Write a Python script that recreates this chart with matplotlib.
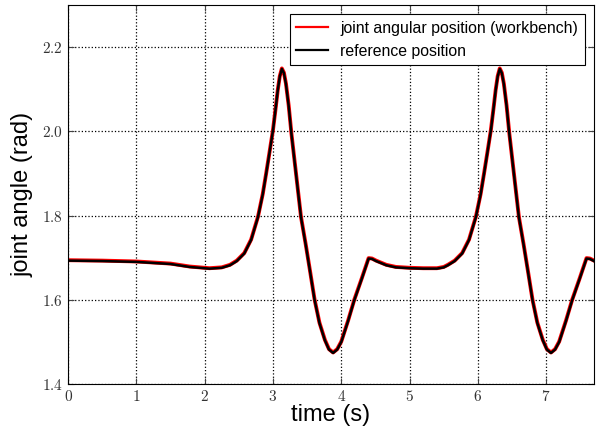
import numpy as np
import matplotlib
matplotlib.use('agg')
import matplotlib.pyplot as plt
from matplotlib.ticker import FuncFormatter

# values
t = [0.0, 0.5, 1.0, 1.5, 1.78, 2.07, 2.25, 2.37, 2.47, 2.58, 2.68, 2.78,
     2.85, 2.90, 2.95, 3.00, 3.04, 3.07, 3.10, 3.13, 3.16, 3.19, 3.23, 3.27,
     3.34, 3.41, 3.48, 3.54, 3.61, 3.68, 3.76, 3.82, 3.88, 3.94, 4.00, 4.10,
     4.19, 4.30, 4.40, 4.45, 4.51, 4.66, 4.80, 5.00, 5.20, 5.40, 5.50, 5.56,
     5.66, 5.77, 5.87, 5.97, 6.04, 6.09, 6.14, 6.19, 6.23, 6.26, 6.29, 6.32,
     6.35, 6.38, 6.42, 6.46, 6.53, 6.60, 6.67, 6.73, 6.80, 6.87, 6.95, 7.01,
     7.07, 7.13, 7.19, 7.29, 7.38, 7.49, 7.59, 7.64, 7.70]
reference = [1.693, 1.692, 1.690, 1.685, 1.678, 1.674, 1.676, 1.682, 1.692,
             1.710, 1.742, 1.796, 1.850, 1.899, 1.950, 2.002, 2.055, 2.097,
             2.130, 2.148, 2.138, 2.112, 2.060, 1.994, 1.895, 1.796, 1.730,
             1.670, 1.599, 1.545, 1.504, 1.482, 1.474, 1.482, 1.500, 1.550,
             1.599, 1.650, 1.698, 1.697, 1.692, 1.682, 1.677, 1.675, 1.674,
             1.674, 1.677, 1.682, 1.692, 1.710, 1.742, 1.796, 1.850, 1.899,
             1.950, 2.002, 2.055, 2.097, 2.130, 2.148, 2.138, 2.112, 2.060,
             1.994, 1.895, 1.796, 1.730, 1.670, 1.599, 1.545, 1.504, 1.482,
             1.474, 1.482, 1.500, 1.550, 1.599, 1.650, 1.698, 1.697, 1.692]
workbench = [1.694, 1.693, 1.691, 1.686, 1.679, 1.675, 1.677, 1.683, 1.693,
             1.711, 1.743, 1.797, 1.851, 1.900, 1.951, 2.003, 2.056, 2.098,
             2.131, 2.149, 2.139, 2.113, 2.061, 1.995, 1.896, 1.797, 1.731,
             1.671, 1.600, 1.546, 1.505, 1.483, 1.475, 1.483, 1.501, 1.551,
             1.600, 1.651, 1.699, 1.698, 1.693, 1.683, 1.678, 1.676, 1.675,
             1.675, 1.678, 1.683, 1.693, 1.711, 1.743, 1.797, 1.851, 1.900,
             1.951, 2.003, 2.056, 2.098, 2.131, 2.149, 2.139, 2.113, 2.061,
             1.995, 1.896, 1.797, 1.731, 1.671, 1.600, 1.546, 1.505, 1.483,
             1.475, 1.483, 1.501, 1.551, 1.600, 1.651, 1.699, 1.698, 1.693]

plt.rcParams['mathtext.fontset'] = 'cm'
plt.rcParams['font.family'] = ['Liberation Sans', 'DejaVu Sans']

fig = plt.figure(figsize=(5.97, 4.36), dpi=100)
ax = fig.add_axes([0.114, 0.119, 0.881, 0.870])

ax.plot(t, workbench, color='red', lw=2.8, label='joint angular position (workbench)')
ax.plot(t, reference, color='black', lw=1.8, label='reference position')

ax.set_xlim(0, 7.7)
ax.set_ylim(1.4, 2.3)
ax.set_xticks(np.arange(0, 8, 1))
ax.set_yticks([1.4, 1.6, 1.8, 2.0, 2.2])
ax.xaxis.set_major_formatter(FuncFormatter(lambda v, p: r'$%d$' % v))
ax.yaxis.set_major_formatter(FuncFormatter(lambda v, p: r'$%.1f$' % v))
ax.tick_params(direction='in', top=True, right=True, length=4, width=0.8,
               color='#444444', labelsize=11, labelcolor='#333333')
ax.grid(True, color='black', linestyle=':', linewidth=0.9)

ax.set_xlabel('time (s)', fontsize=17, labelpad=0)
ax.set_ylabel('joint angle (rad)', fontsize=17, labelpad=6)

leg = ax.legend(loc='upper right', fontsize=11.4, fancybox=False, framealpha=1,
                edgecolor='black', borderaxespad=0.6, handlelength=2.0)
leg.get_frame().set_linewidth(0.8)
for h in leg.get_lines():
    h.set_linewidth(1.6)

plt.savefig('out.png', dpi=100)
